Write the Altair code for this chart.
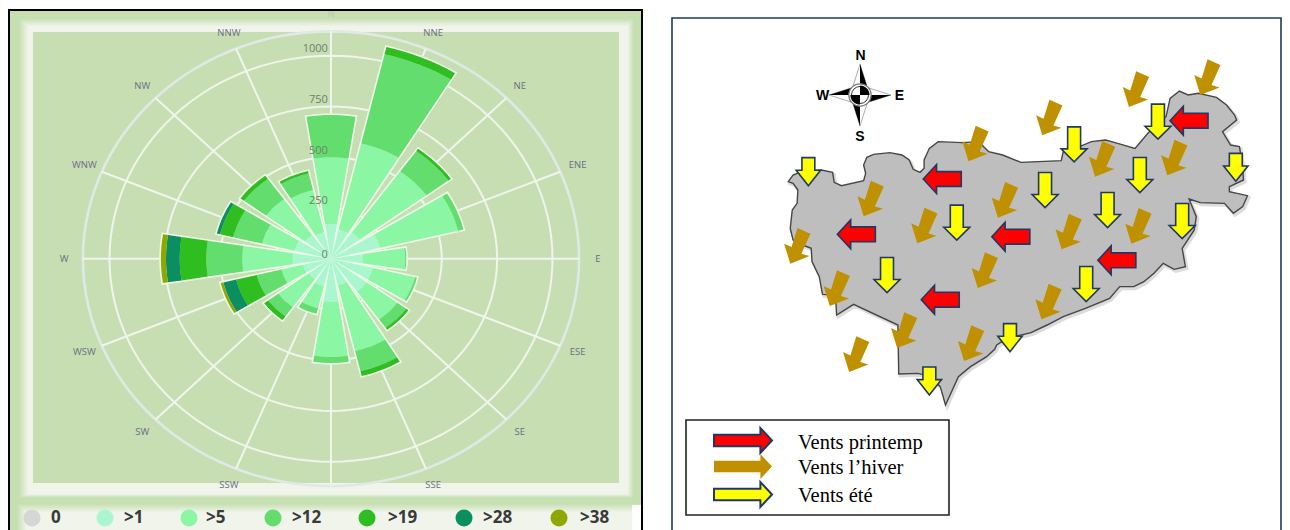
import math
import altair as alt
import pandas as pd

# ---------- wind rose data (cumulative frequency at the top of each speed class) ----------
directions = ["N", "NNE", "NE", "ENE", "E", "ESE", "SE", "SSE", "S", "SSW", "SW", "WSW", "W", "WNW", "NW", "NNW"]
class_names = [">1", ">5", ">12", ">19", ">28", ">38"]
top_1 =  [172, 148, 160, 229, 144, 195, 200, 135, 213, 140, 125, 130, 174, 170, 145, 135]
top_5 =  [499, 584, 532, 590, 335, 390, 370, 468, 484, 250, 294, 230, 401, 320, 362, 348]
top_12 = [708, 1036, 655, 615, 340, 399, 420, 570, 514, 279, 350, 345, 563, 454, 485, 432]
top_19 = [708, 1072, 669, 615, 340, 399, 432, 594, 514, 279, 373, 440, 683, 515, 505, 444]
top_28 = [708, 1072, 669, 615, 340, 399, 432, 594, 514, 279, 373, 500, 745, 530, 505, 444]
top_38 = [708, 1072, 669, 615, 340, 399, 432, 594, 514, 279, 373, 512, 768, 530, 505, 444]
tops = [top_1, top_5, top_12, top_19, top_28, top_38]
class_colors = ["#A9F6CF", "#8BF6A4", "#63DE6E", "#2FBE20", "#0C8F60", "#8FA800"]
ring_values = [250, 500, 750, 1000]
legend_names = ["0", ">1", ">5", ">12", ">19", ">28", ">38"]
legend_colors = ["#D6D6D6", "#A9F6CF", "#8BF6A4", "#63DE6E", "#2FBE20", "#0C8F60", "#8FA800"]

# ---------- map data (map units) ----------
outline_x = [318,330,350,400,428,432,450,505,510,505,513,530,570,600,618,628,645,655,655,668,690,750,790,815,850,895,995,1000,1030,1070,1105,1135,1178,1210,1235,1255,1265,1288,1310,1335,1380,1405,1425,1430,1395,1415,1437,1445,1447,1412,1412,1457,1445,1422,1400,1340,1312,1330,1325,1295,1303,1275,1248,1225,1200,1175,1140,1115,1055,1000,960,920,860,835,830,810,770,740,725,708,695,670,640,592,590,480,438,435,403,395,377,375,360,330,323,328,340,342,330]
outline_y = [515,495,485,480,487,517,527,512,490,465,442,433,428,435,450,478,487,475,450,415,395,398,395,425,435,457,452,425,415,395,390,400,415,370,340,320,265,243,255,250,262,285,315,330,365,405,410,470,510,530,545,557,590,610,580,578,567,620,660,715,770,778,760,790,815,830,830,865,895,920,945,968,985,1005,1018,1040,1070,1100,1140,1185,1130,1100,1090,1092,945,883,915,855,853,800,755,715,708,690,655,600,580,540,520]
summer_large = [(1027,403),(1235,335),(1190,495),(955,540),(1110,600),(736,638),(1295,633),(563,795),(1057,822)]
summer_small = [(368,485),(1428,472),(868,983),(668,1113)]
spring = [(700,507),(1312,332),(487,673),(870,680),(1133,751),(695,869)]
winter = [(1357,202),(1180,238),(965,323),(782,401),(1096,447),(1275,443),(522,566),(855,570),(655,647),(1013,665),(1186,648),(340,708),(805,781),(438,835),(963,875),(605,961),(771,1000),(486,1033)]
legend_labels = ["Vents printemp", "Vents l\u2019hiver", "Vents \u00e9t\u00e9"]
compass_labels = ["N", "S", "W", "E"]

# ---------- layout: one view, page position = view position + 8 ----------
TOTAL_W, TOTAL_H = 1274, 522
LW, LH = 634, 522
RX, RW = 663, 615
PX_X, PX_Y = 0.2215, 0.203
CX, CY = 323.0, 250.7
OUTER = 1120
LABEL_R = 1205
x_rose = alt.Scale(domain=[-CX / PX_X, (LW - CX) / PX_X], range=[0, LW])
y_rose = alt.Scale(domain=[(CY - LH) / PX_Y, CY / PX_Y], range=[LH, 0])


def polar(r, deg):
    a = math.radians(deg)
    return r * math.sin(a), r * math.cos(a)


def closed(df, **mark):
    return alt.Chart(df).mark_line(interpolate="linear-closed", **mark)


def mix(a, b, t):
    ca = [int(a[i:i + 2], 16) for i in (1, 3, 5)]
    cb = [int(b[i:i + 2], 16) for i in (1, 3, 5)]
    return "#" + "".join(f"{round(p + (q - p) * t):02X}" for p, q in zip(ca, cb))


# wedges
band_rows, outline_rows = [], []
HALF = 9.0
for d, name in enumerate(directions):
    centre = d * 22.5
    angles = [centre - HALF + HALF * 2 * k / 8 for k in range(9)]
    low = 0
    for c, cname in enumerate(class_names):
        high = tops[c][d]
        if high > low:
            corners = [polar(high, a) for a in angles] + [polar(low, a) for a in reversed(angles)]
            for i, (x, y) in enumerate(corners):
                band_rows.append(dict(id=f"{name}{c}", cls=cname, i=i, x=x, y=y))
        low = high
    corners = [polar(low, a) for a in angles] + [(0.0, 0.0)]
    for i, (x, y) in enumerate(corners):
        outline_rows.append(dict(id=name, i=i, x=x, y=y))
bands = pd.DataFrame(band_rows)
wedge_outline = pd.DataFrame(outline_rows)

X = alt.X("x:Q", scale=x_rose, axis=None)
Y = alt.Y("y:Q", scale=y_rose, axis=None)

# soft frame behind the rose (nested rectangles fading from green to near white)
GREEN, PALE, INNER = "#C5DFB0", "#F0F4EB", "#C7DEB3"
frame_steps = [(1, 2, 633, 530, GREEN)]
STEPS = 10
for s in range(STEPS + 1):
    t = s / STEPS
    frame_steps.append((10 + 10 * t, 10 + 8 * t, 626 - 6 * t, 490 - 4 * t, mix(GREEN, PALE, t)))
for s in range(STEPS + 1):
    t = s / STEPS
    frame_steps.append((8 + 10 * t, 495 + 9 * t, 632 - 6 * t, 530, mix(GREEN, PALE, t)))
frame_steps.append((25, 24, 611, 475, INNER))
frame_steps.append((624, 497, 634, 530, "#FFFFFF"))
frame = pd.DataFrame(frame_steps, columns=["x0", "y0", "x1", "y1", "c"])
frame["o"] = range(len(frame))
frame_layer = alt.Chart(frame).mark_rect().encode(
    x=alt.X("x0:Q", scale=None, axis=None), x2="x1:Q",
    y=alt.Y("y0:Q", scale=None, axis=None), y2="y1:Q",
    fill=alt.Fill("c:N", scale=None),
    order=alt.Order("o:Q"),
)
blank = pd.DataFrame({"a": [0]})
black_edge = alt.Chart(blank).mark_rect(fill=None, stroke="#000000", strokeWidth=2).encode(
    x=alt.value(1), x2=alt.value(634), y=alt.value(2), y2=alt.value(540))

ring_rows = []
for r in ring_values + [OUTER]:
    for a in range(0, 360, 3):
        x, y = polar(r, a)
        ring_rows.append(dict(id=r, i=a, x=x, y=y, outer=r == OUTER))
rings = pd.DataFrame(ring_rows)
rings_inner = closed(rings[~rings.outer], stroke="#EFF4EC", strokeWidth=2, fill=None).encode(x=X, y=Y, detail="id:N", order="i:Q")
rings_outer = closed(rings[rings.outer], stroke="#DFE9E5", strokeWidth=2.6, fill=None).encode(x=X, y=Y, detail="id:N", order="i:Q")

spoke_rows = []
for d, name in enumerate(directions):
    x, y = polar(OUTER, d * 22.5)
    spoke_rows += [dict(id=name, i=0, x=0.0, y=0.0), dict(id=name, i=1, x=x, y=y)]
spokes = alt.Chart(pd.DataFrame(spoke_rows)).mark_line(stroke="#F0F5EE", strokeWidth=2).encode(x=X, y=Y, detail="id:N", order="i:Q")

wedge_edges = closed(wedge_outline, stroke="#EFF7EA", strokeWidth=3.2, fill=None).encode(x=X, y=Y, detail="id:N", order="i:Q")
wedges = closed(bands, strokeWidth=0).encode(
    x=X, y=Y, detail="id:N", order="i:Q",
    fill=alt.Fill("cls:N", scale=alt.Scale(domain=class_names, range=class_colors), legend=None),
)

label_rows = []
for d, name in enumerate(directions):
    if name == "S":
        continue
    x, y = polar(LABEL_R, d * 22.5)
    label_rows.append(dict(t=name, x=x, y=y, c="#BCCDAE" if name == "N" else "#6C6C82"))
dir_labels = alt.Chart(pd.DataFrame(label_rows)).mark_text(font="Open Sans", fontSize=9.5, align="center", baseline="middle").encode(
    x=X, y=Y, text="t:N", color=alt.Color("c:N", scale=None))

radial = pd.DataFrame({"t": ["0"] + [str(v) for v in ring_values], "x": [-14] * 5, "y": [20, 282, 532, 782, 1032]})
radial_labels = alt.Chart(radial).mark_text(font="Open Sans", fontSize=11, align="right", baseline="middle", color="#6F7F6C").encode(x=X, y=Y, text="t:N")

legend_df = pd.DataFrame({
    "t": legend_names,
    "c": legend_colors,
    "sx": [24, 97, 181, 265, 359, 456, 551],
    "tx": [43, 116, 198, 284, 380, 475, 572],
    "y": [510] * 7,
})
legend_dots = alt.Chart(legend_df).mark_circle(size=290, opacity=1).encode(
    x=alt.X("sx:Q", scale=None, axis=None), y=alt.Y("y:Q", scale=None, axis=None), fill=alt.Fill("c:N", scale=None))
legend_text = alt.Chart(legend_df).mark_text(font="Open Sans", fontSize=17, fontWeight="bold", align="left", baseline="middle", color="#3A3A3A").encode(
    x=alt.X("tx:Q", scale=None, axis=None), y=alt.Y("y:Q", scale=None, axis=None), text="t:N")


# ---------- right panel: map units <-> page position ----------
def mx(px):
    return (px - 660) * 2.48


def my(py):
    return (py - 10) * 3.0


x_map = alt.Scale(domain=[mx(671), mx(671 + RW)], range=[RX, RX + RW])
y_map = alt.Scale(domain=[my(8 + TOTAL_H), my(8)], range=[TOTAL_H, 0])
MX = alt.X("x:Q", scale=x_map, axis=None)
MY = alt.Y("y:Q", scale=y_map, axis=None)

NAVY = "#1F3864"
BROWN = "#BF9000"
YELLOW_PATH = "M-.37,-1L.37,-1L.37,.26L.74,.26L0,1L-.74,.26L-.37,.26Z"
YELLOW_SMALL_PATH = "M-.46,-1L.46,-1L.46,-.1L.87,-.1L0,1L-.87,-.1L-.46,-.1Z"
RED_PATH = "M1,-.39L-.3,-.39L-.3,-.76L-1,0L-.3,.76L-.3,.39L1,.39Z"
BROWN_PATH = "M.02,-1L.74,-.68L.24,.43L.69,.56L-.38,.98L-.72,-.13L-.31,.06Z"
RIGHT_PATH = "M-1,-.2L.6,-.2L.6,-.43L1,0L.6,.43L.6,.2L-1,.2Z"
STAR_PATH = "M0,-1L.24,-.24L1,0L.24,.24L0,1L-.24,.24L-1,0L-.24,-.24Z"
STAR_BLACK = "M0,-1L.24,-.24L0,0ZM1,0L.24,.24L0,0ZM0,1L-.24,.24L0,0ZM-1,0L-.24,-.24L0,0Z"
DISC_BLACK = "M0,0L0,-1A1,1 0 0 1 1,0ZM0,0L0,1A1,1 0 0 1 -1,0Z"


def pts(pairs):
    return pd.DataFrame(pairs, columns=["x", "y"])


def arrows(pairs, path, size, fill, stroke=None, sw=1.6):
    opts = dict(shape=path, size=size, filled=True, fill=fill, opacity=1)
    if stroke:
        opts.update(stroke=stroke, strokeWidth=sw)
    else:
        opts.update(strokeWidth=0)
    return alt.Chart(pts(pairs)).mark_point(**opts).encode(x=MX, y=MY)


panel = alt.Chart(blank).mark_rect(fill="#FFFFFF", stroke=NAVY, strokeWidth=1.6).encode(
    x=alt.value(RX + 1), x2=alt.value(TOTAL_W - 1), y=alt.value(10), y2=alt.value(540))

outline = pd.DataFrame({"x": outline_x, "y": outline_y, "i": range(len(outline_x))})
shadow_df = outline.assign(x=outline.x + 4, y=outline.y + 6)
shadow = closed(shadow_df, fill="#9A9A9A", stroke="#BBBBBB", strokeWidth=3, opacity=0.5).encode(x=MX, y=MY, order="i:Q")
region = closed(outline, fill="#BEBEBE", stroke="#464646", strokeWidth=1.4).encode(x=MX, y=MY, order="i:Q")

C = (mx(860), my(95))
compass_df = pd.DataFrame({
    "t": compass_labels,
    "x": [mx(860.5), mx(860), mx(822.5), mx(899.5)],
    "y": [my(56), my(137), my(96), my(96)],
})
compass = [
    arrows([C], STAR_PATH, 3844, "#FFFFFF", "#888888", 0.7),
    arrows([C], STAR_BLACK, 3844, "#000000"),
    alt.Chart(pts([C])).mark_point(shape="circle", size=500, filled=True, fill="#FFFFFF", stroke="#777777", strokeWidth=1.2, opacity=1).encode(x=MX, y=MY),
    alt.Chart(pts([C])).mark_point(shape="circle", size=290, filled=True, fill="#FFFFFF", stroke="#333333", strokeWidth=1, opacity=1).encode(x=MX, y=MY),
    arrows([C], DISC_BLACK, 370, "#000000"),
    alt.Chart(compass_df).mark_text(font="Liberation Sans", fontSize=14, fontWeight="bold", color="#000000", align="center", baseline="middle").encode(x=MX, y=MY, text="t:N"),
]

box = alt.Chart(blank).mark_rect(fill="#FFFFFF", stroke="#222222", strokeWidth=1.6).encode(
    x=alt.value(686 - 8), x2=alt.value(949 - 8), y=alt.value(420 - 8), y2=alt.value(515 - 8))
key_text = alt.Chart(pd.DataFrame({"t": legend_labels, "x": [mx(798)] * 3, "y": [my(443), my(468), my(496)]})).mark_text(
    font="Liberation Serif", fontSize=20.5, color="#000000", align="left", baseline="middle").encode(x=MX, y=MY, text="t:N")

chart = alt.layer(
    frame_layer, rings_inner, rings_outer, spokes, wedge_edges, wedges, dir_labels, radial_labels,
    legend_dots, legend_text, black_edge,
    panel, shadow, region,
    arrows(winter, BROWN_PATH, 1296, BROWN),
    arrows(summer_large, YELLOW_PATH, 1225, "#FFFF00", NAVY),
    arrows(summer_small, YELLOW_SMALL_PATH, 784, "#FFFF00", NAVY),
    arrows(spring, RED_PATH, 1444, "#FF0000", NAVY),
    *compass,
    box,
    arrows([(mx(743), my(440.5))], RIGHT_PATH, 3364, "#FF0000", NAVY, 2),
    arrows([(mx(743), my(466.5))], RIGHT_PATH, 3364, BROWN),
    arrows([(mx(743), my(494.5))], RIGHT_PATH, 3364, "#FFFF00", NAVY, 2),
    key_text,
).resolve_scale(x="independent", y="independent", fill="independent", color="independent").properties(
    width=TOTAL_W, height=TOTAL_H, autosize="none", padding=0, background="#FFFFFF",
).configure_view(stroke=None)
chart.save("out.html", embed_options={"renderer": "svg", "actions": False})
